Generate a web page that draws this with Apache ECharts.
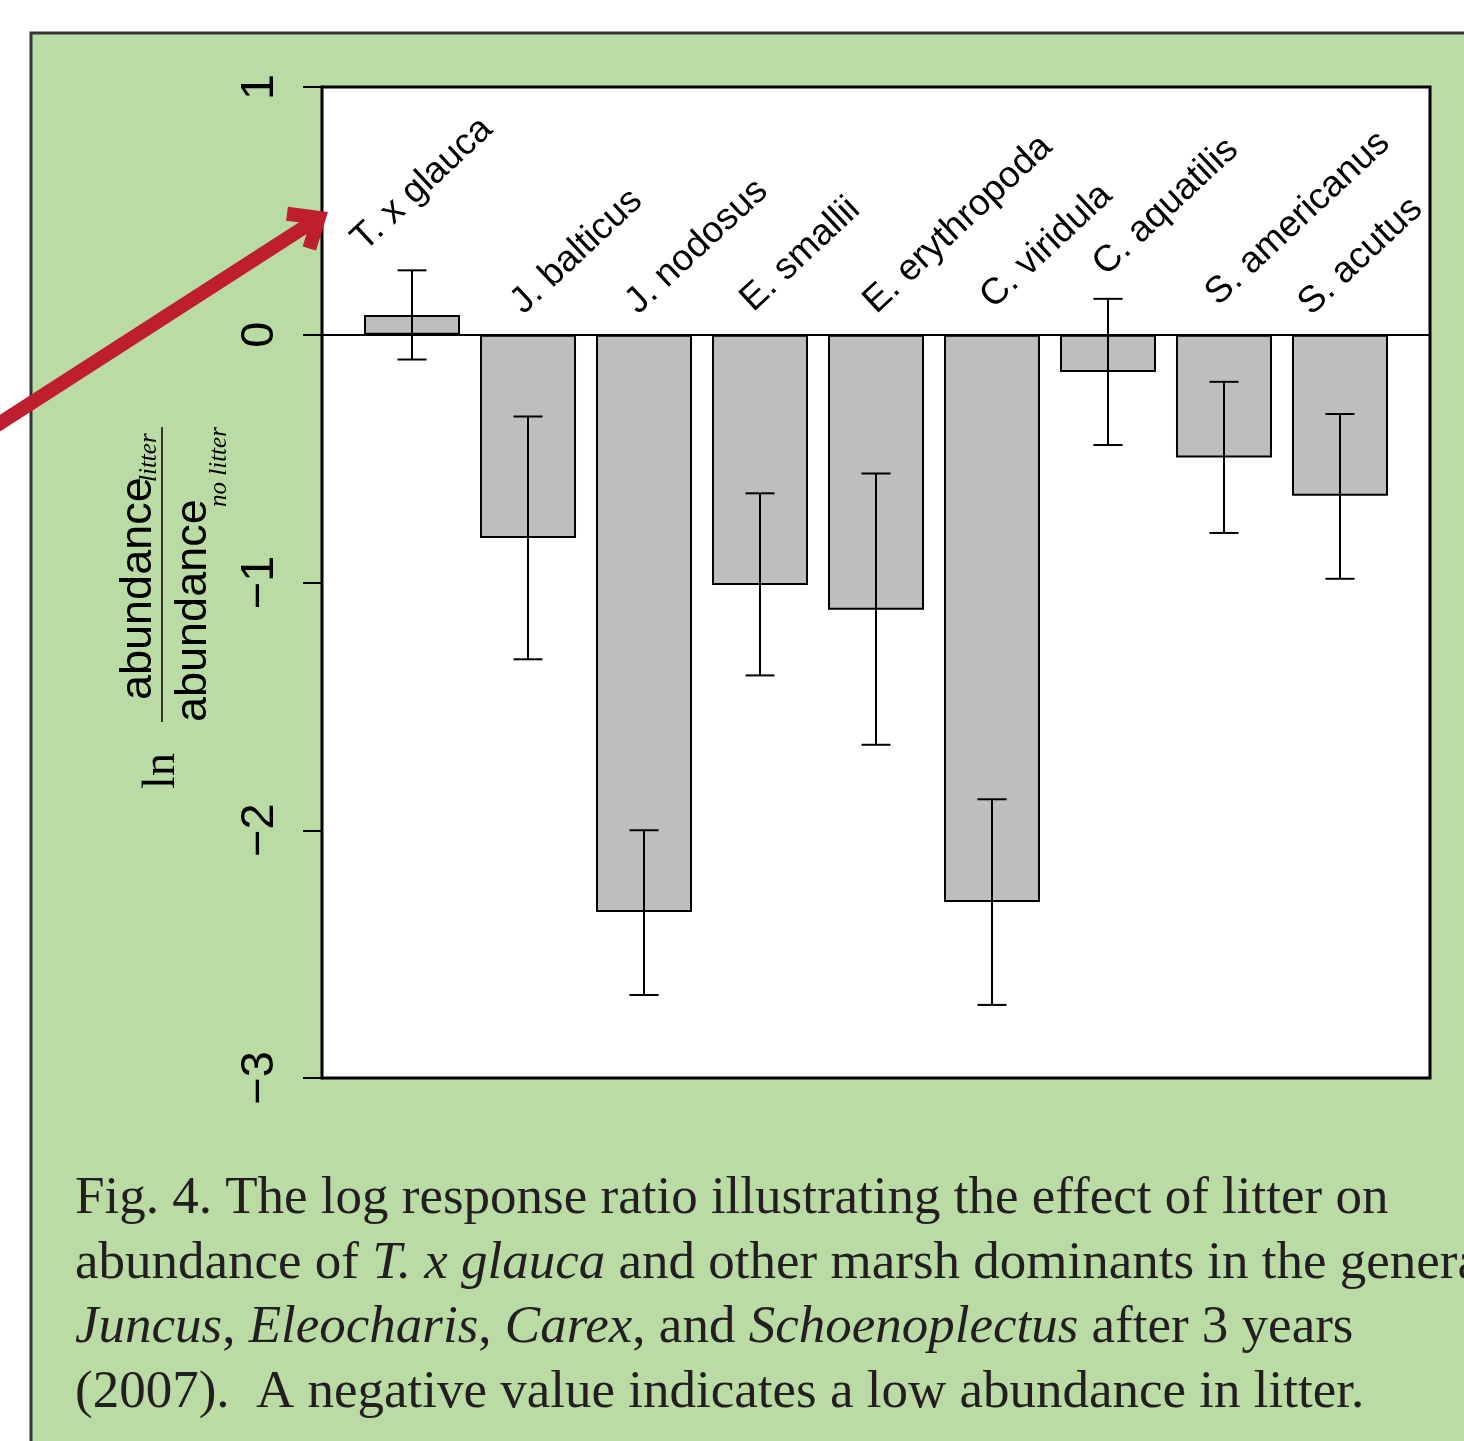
<!DOCTYPE html>
<html>
<head>
<meta charset="utf-8">
<script src="https://cdn.jsdelivr.net/npm/echarts@6/dist/echarts.min.js"></script>
<style>html,body{margin:0;padding:0;background:#fff}#c{width:1464px;height:1441px}</style>
</head>
<body>
<div id="c"></div>
<script>
// ---- data ----
const species = ['T. x glauca','J. balticus','J. nodosus','E. smallii','E. erythropoda','C. viridula','C. aquatilis','S. americanus','S. acutus'];
const lnRR    = [0.08, -0.82, -2.33, -1.01, -1.11, -2.29, -0.15, -0.495, -0.65];
const errHigh = [0.26, -0.33, -2.00, -0.64, -0.56, -1.875, 0.145, -0.19, -0.32];
const errLow  = [-0.10, -1.31, -2.665, -1.375, -1.655, -2.705, -0.445, -0.80, -0.985];
const yTicks  = [1, 0, -1, -2, -3];
// label anchors (x in bar-index units, y in axis units)
const labelX  = [0.64, 2.01, 3.00, 3.99, 5.05, 6.06, 7.03, 8.00, 8.80];
const labelY  = [0.31, 0.055, 0.055, 0.065, 0.057, 0.077, 0.21, 0.09, 0.05];

const chart = echarts.init(document.getElementById('c'), null, {renderer:'canvas'});
const sans = '"Liberation Sans", Arial, sans-serif';
const serif = '"Liberation Serif", "Times New Roman", serif';
const RED = '#BE1E2D';

const option = {
  backgroundColor: '#ffffff',
  animation: false,
  grid: {left: 322, top: 87, width: 1108, height: 991, show: true, backgroundColor: '#ffffff', borderColor: '#000', borderWidth: 3, z: 1},
  xAxis: {type: 'value', min: 0.224, max: 9.776, show: false},
  yAxis: {
    type: 'value', min: Math.min(...yTicks), max: Math.max(...yTicks), interval: 1,
    axisLine: {show: true, lineStyle: {color: '#000', width: 3}},
    axisTick: {show: true, length: 19, lineStyle: {color: '#000', width: 2}},
    splitLine: {show: false},
    axisLabel: {rotate: 90, margin: 38, fontSize: 47, color: '#000', fontFamily: sans,
      formatter: v => (v < 0 ? '\u2212' + Math.abs(v) : String(v))}
  },
  graphic: [
    {type: 'rect', z: -100, shape: {x: 31, y: 33, width: 1500, height: 1500}, style: {fill: '#BBDBA5', stroke: '#333', lineWidth: 3}},
    // y axis title
    {type: 'text', z: 50, x: 185, y: 771, rotation: Math.PI/2, style: {text: 'ln', font: '46px ' + serif, fill: '#000', align: 'center', verticalAlign: 'bottom'}},
    {type: 'text', z: 50, x: 161, y: 700, rotation: Math.PI/2, style: {text: 'abundance', font: '45px ' + sans, fill: '#000', align: 'left', verticalAlign: 'bottom'}},
    {type: 'text', z: 50, x: 162, y: 482, rotation: Math.PI/2, style: {text: 'litter', font: 'italic 25px ' + serif, fill: '#000', align: 'left', verticalAlign: 'bottom'}},
    {type: 'line', z: 50, shape: {x1: 162, y1: 427, x2: 162, y2: 722}, style: {stroke: '#333', lineWidth: 2}},
    {type: 'text', z: 50, x: 216, y: 722, rotation: Math.PI/2, style: {text: 'abundance', font: '45px ' + sans, fill: '#000', align: 'left', verticalAlign: 'bottom'}},
    {type: 'text', z: 50, x: 232, y: 507, rotation: Math.PI/2, style: {text: 'no litter', font: 'italic 25px ' + serif, fill: '#000', align: 'left', verticalAlign: 'bottom'}},
    // arrow
    {type: 'polyline', z: 100, shape: {points: [[-20, 436], [318.8, 217.9]]}, style: {stroke: RED, lineWidth: 14, lineCap: 'butt'}},
    {type: 'polyline', z: 100, shape: {points: [[287, 213.8], [318.8, 217.9], [309.3, 248.5]]}, style: {stroke: RED, lineWidth: 14, lineJoin: 'miter', miterLimit: 10, lineCap: 'butt', fill: null}},
    // caption
    {type: 'text', z: 50, x: 75, y: 1167, style: {
      text: 'Fig. 4. The log response ratio illustrating the effect of litter on\n' +
            'abundance of {i|T. x glauca} and other marsh dominants in the genera\n' +
            '{i|Juncus}, {i|Eleocharis}, {i|Carex}, and {i|Schoenoplectus} after 3 years\n' +
            '(2007).  A negative value indicates a low abundance in litter.',
      font: '53px ' + serif, fill: '#231F20', lineHeight: 64.5, align: 'left', verticalAlign: 'top',
      rich: {i: {fontStyle: 'italic', fontSize: 53, fontFamily: serif, fill: '#231F20', lineHeight: 64.5}}
    }}
  ],
  series: [
    {
      type: 'bar', z: 2,
      data: lnRR.map((v, i) => [i + 1, v]),
      barWidth: 96,
      itemStyle: {color: '#BEBEBE', borderColor: '#000', borderWidth: 2},
      markLine: {silent: true, symbol: ['none', 'none'], label: {show: false},
        lineStyle: {color: '#000', width: 2, type: 'solid'}, data: [{yAxis: 0}]}
    },
    {
      type: 'custom', z: 3,
      data: lnRR.map((v, i) => [i + 1, errLow[i], errHigh[i]]),
      renderItem: (params, api) => {
        const x = api.value(0);
        const a = api.coord([x, api.value(2)]);
        const b = api.coord([x, api.value(1)]);
        const h = 14.5;
        const st = {stroke: '#000', lineWidth: 2};
        return {type: 'group', children: [
          {type: 'line', shape: {x1: a[0], y1: a[1], x2: b[0], y2: b[1]}, style: st},
          {type: 'line', shape: {x1: a[0] - h, y1: a[1], x2: a[0] + h, y2: a[1]}, style: st},
          {type: 'line', shape: {x1: b[0] - h, y1: b[1], x2: b[0] + h, y2: b[1]}, style: st}
        ]};
      }
    },
    {
      type: 'custom', z: 4,
      data: species.map((s, i) => [labelX[i], labelY[i], i]),
      renderItem: (params, api) => {
        const p = api.coord([api.value(0), api.value(1)]);
        return {type: 'text', x: p[0], y: p[1], rotation: 43 * Math.PI / 180,
          style: {text: species[api.value(2)], font: '37px ' + sans, fill: '#000', align: 'left', verticalAlign: 'bottom'}};
      }
    }
  ]
};
chart.setOption(option);
</script>
</body>
</html>
